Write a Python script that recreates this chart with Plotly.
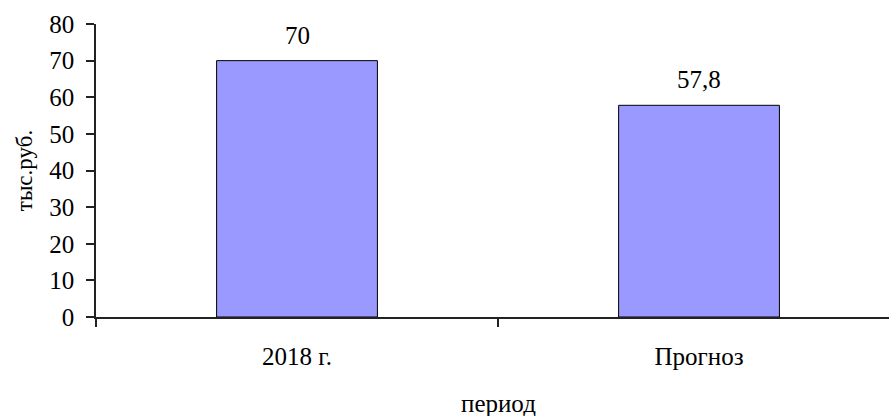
import plotly.graph_objects as go

categories = ["2018 г.", "Прогноз"]
values = [70, 57.8]
y_ticks = [0, 10, 20, 30, 40, 50, 60, 70, 80]
y_title = "тыс.руб."
x_title = "период"

labels = [f"{v:g}".replace(".", ",") for v in values]

FONT = "'Liberation Serif', 'Times New Roman', serif"
SIZE = 25

fig = go.Figure()
fig.add_trace(go.Bar(
    x=categories, y=values, width=0.4,
    marker=dict(color="#9999FF", line=dict(color="#000000", width=1)),
))

for c, v, t in zip(categories, values, labels):
    fig.add_annotation(x=c, y=v, text=t, showarrow=False, yanchor="bottom",
                       yshift=10, font=dict(family=FONT, size=SIZE, color="#000"))

fig.add_annotation(x=0.5, xref="x", y=0, yref="paper", yanchor="middle",
                   yshift=-86, text=x_title, showarrow=False,
                   font=dict(family=FONT, size=SIZE, color="#000"))

fig.update_layout(
    width=889, height=416,
    margin=dict(l=96, r=0, t=24, b=99),
    plot_bgcolor="white", paper_bgcolor="white",
    showlegend=False,
    font=dict(family=FONT, size=SIZE, color="#000"),
)
fig.update_xaxes(
    type="category", range=[-0.5, 1.4726],
    showline=True, linecolor="#222", linewidth=1.5,
    ticks="outside", tickson="boundaries", ticklen=8, tickcolor="#222", tickwidth=1.5,
    showgrid=False, ticklabelstandoff=16,
    tickfont=dict(family=FONT, size=SIZE, color="#000"),
)
fig.update_yaxes(
    range=[0, 80], tickvals=y_ticks,
    showline=True, linecolor="#222", linewidth=1.5,
    ticks="outside", ticklen=8, tickcolor="#222", tickwidth=1.5,
    showgrid=False, zeroline=False, ticklabelstandoff=7,
    tickfont=dict(family=FONT, size=SIZE, color="#000"),
    title=dict(text=y_title, font=dict(family=FONT, size=SIZE - 2, color="#000"), standoff=10),
)

fig.write_html("out.html")
